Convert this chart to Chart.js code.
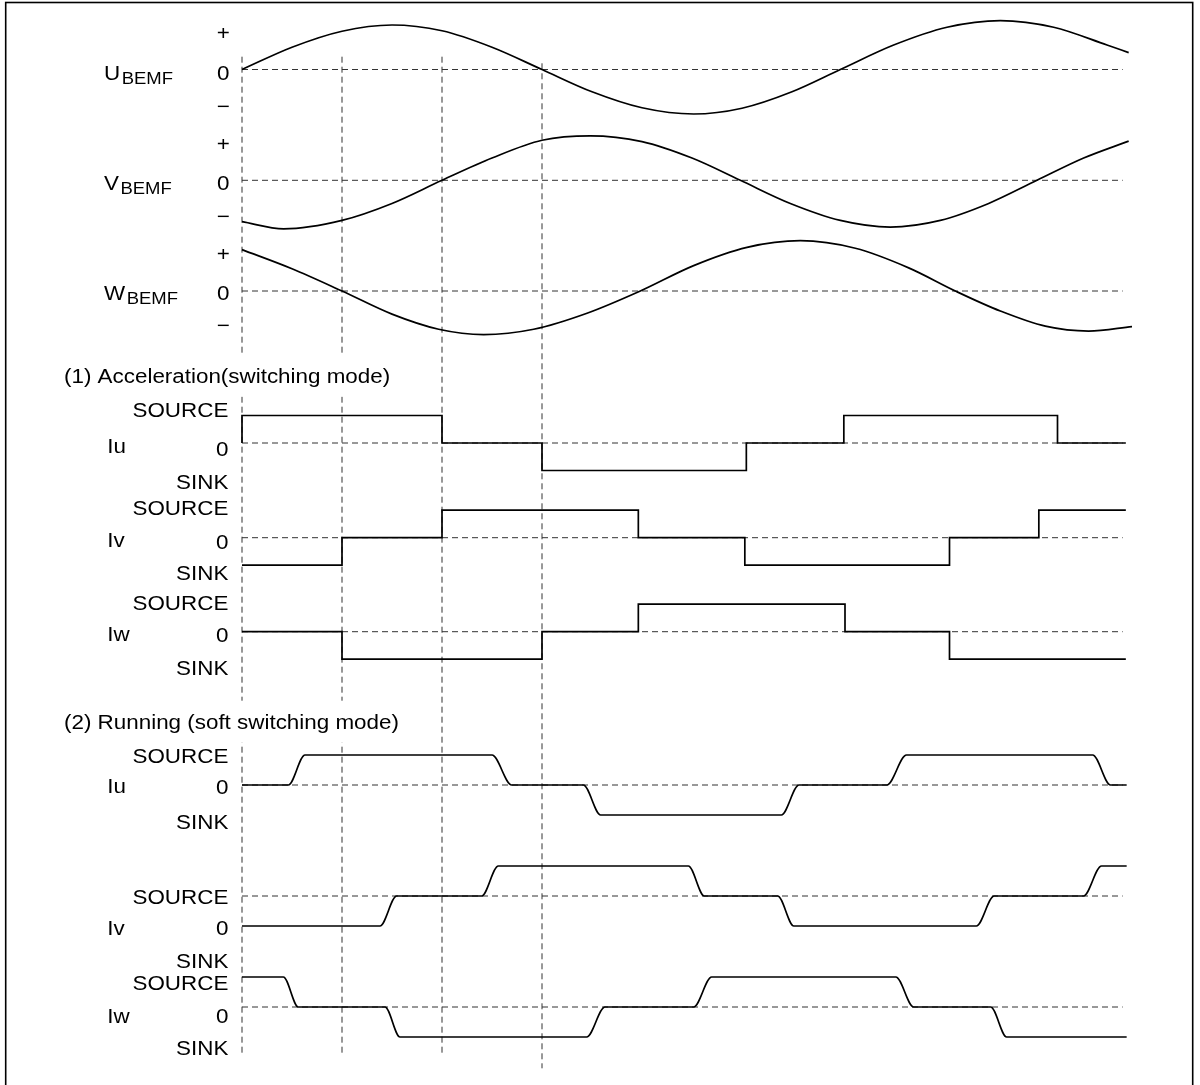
<!DOCTYPE html>
<html>
<head>
<meta charset="utf-8">
<script src="https://cdn.jsdelivr.net/npm/chart.js@4.4.1/dist/chart.umd.min.js"></script>
<style>
  html, body { margin: 0; padding: 0; background: #fff; }
  #wrap { width: 1200px; height: 1085px; position: relative; }
</style>
</head>
<body>
<div id="wrap"><canvas id="timing"></canvas></div>
<script>
// x = electrical angle (deg), y = level in units of the row amplitude

// back EMF
const uBemf = [[0,0],[30,0.5],[60,0.86],[90,1.0],[120,0.87],[150,0.5],[180,0],[210,-0.5],[240,-0.86],[271,-1.0],
  [300,-0.87],[330,-0.5],[359,0],[391,0.55],[423,0.95],[455,1.1],[487,0.95],[519,0.55],[532,0.38]];
const vBemf = [[0,-0.93],[25,-1.09],[60,-0.9],[90,-0.52],[120,0],[150,0.5],[180,0.9],[209,1.0],[240,0.87],[270,0.5],
  [299,0],[329,-0.52],[359,-0.9],[389,-1.05],[419,-0.9],[448,-0.52],[477,0],[505,0.5],[532,0.88]];
const wBemf = [[0,0.93],[30,0.5],[60,0],[90,-0.52],[118,-0.86],[145,-0.98],[175,-0.86],[207,-0.5],[239,0],[271,0.57],
  [303,0.98],[335,1.13],[368,0.96],[400,0.52],[428,0],[455,-0.45],[482,-0.79],[508,-0.9],[534,-0.8]];

// (1) switching mode: level holds from this angle to the next point
const iuHard = [[0,0],[0,1],[120,0],[180,-1],[302.6,0],[361.1,1],[489.3,0],[530.3,0]];
const ivHard = [[0,-1],[60,0],[120,1],[237.8,0],[301.7,-1],[424.5,0],[478.1,1],[530.3,1]];
const iwHard = [[0,0],[60,-1],[180,0],[237.8,1],[361.8,0],[424.5,-1],[530.3,-1]];

// (2) soft switching mode: corners of the smoothed edges
const iuSoft = [[0,0],[27.8,0],[37.8,1],[150,1],[161.8,0],[204.8,0],[215.2,-1],[323.6,-1],[334.2,0],[386.9,0],
  [398.7,1],[510.4,1],[521.1,0],[530.8,0]];
const ivSoft = [[0,-1],[82.8,-1],[92.8,0],[143.8,0],[153.8,1],[267.8,1],[277.4,0],[321.4,0],[331.1,-1],[440.6,-1],
  [451.3,0],[504.9,0],[515.7,1],[530.8,1]];
const iwSoft = [[0,1],[24.8,1],[33.8,0],[85.8,0],[94.8,-1],[206.8,-1],[217.8,0],[271,0],[281.8,1],[392.3,1],
  [403,0],[449.2,0],[458.8,-1],[530.8,-1]];

const guideAngles = [0, 60, 120, 180];
const zeroLineEnd = 528.4;

const bemfNames = ['U', 'V', 'W'];
const bemfSub = 'BEMF';
const bemfTicks = ['+', '0', '\u2212'];
const phaseNames = ['Iu', 'Iv', 'Iw'];
const levelTicks = ['SOURCE', '0', 'SINK'];
const sectionTitles = ['(1) Acceleration(switching mode)', '(2) Running (soft switching mode)'];

// layout (y in px, the y scale is 1:1 with the canvas)
const bemfRows = [
  { zero: 69.5, amp: 44.5, ticks: [33.3, 72.7, 106], name: 72.5 },
  { zero: 180.3, amp: 44.5, ticks: [144, 183.3, 216], name: 183 },
  { zero: 291, amp: 44.5, ticks: [254, 293.3, 325], name: 293 }
];
const hardRows = [
  { zero: 443, amp: 27.5, ticks: [410.3, 449.3, 481.7], name: 446 },
  { zero: 537.7, amp: 27.5, ticks: [508.3, 541.7, 573.3], name: 540 },
  { zero: 631.7, amp: 27.5, ticks: [603.3, 635, 668.3], name: 634 }
];
const softRows = [
  { zero: 785, amp: 30, ticks: [756, 787, 822], name: 786 },
  { zero: 896, amp: 30, ticks: [896.7, 928, 961], name: 928 },
  { zero: 1007, amp: 30, ticks: [983, 1015.5, 1048.3], name: 1015.5 }
];
const titleRows = [375.5, 721.7];
const guideSpans = [[56.7, 1054], [56.7, 1054], [56.7, 1054], [63.3, 1068.3]];

const STRETCH = 1.12;
const FONT = '"Liberation Sans", Arial, sans-serif';

function wave(points, row, extra) {
  return Object.assign({
    data: points.map(p => ({ x: p[0], y: row.zero - row.amp * p[1] })),
    borderColor: '#000',
    borderWidth: 1.7,
    pointRadius: 0,
    fill: false,
    order: 1
  }, extra);
}

function dashed(points) {
  return {
    data: points,
    borderColor: '#333',
    borderWidth: 1,
    borderDash: [6, 4],
    pointRadius: 0,
    fill: false,
    order: 2
  };
}

const datasets = [];
[uBemf, vBemf, wBemf].forEach((d, i) => datasets.push(wave(d, bemfRows[i], { cubicInterpolationMode: 'monotone' })));
[iuHard, ivHard, iwHard].forEach((d, i) => datasets.push(wave(d, hardRows[i], { stepped: true })));
[iuSoft, ivSoft, iwSoft].forEach((d, i) => datasets.push(wave(d, softRows[i], { cubicInterpolationMode: 'monotone' })));

bemfRows.concat(hardRows, softRows).forEach(r => {
  datasets.push(dashed([{ x: 0, y: r.zero }, { x: zeroLineEnd, y: r.zero }]));
});
guideAngles.forEach((a, i) => {
  datasets.push(dashed([{ x: a, y: guideSpans[i][0] }, { x: a, y: guideSpans[i][1] }]));
});

const labelPlugin = {
  id: 'labels',
  afterDraw(chart) {
    const ctx = chart.ctx, xs = chart.scales.x, ys = chart.scales.y;
    const put = (txt, xDeg, yc, align, size, dy) => {
      ctx.save();
      ctx.font = size + 'px ' + FONT;
      ctx.fillStyle = '#000';
      ctx.textAlign = align;
      ctx.textBaseline = 'alphabetic';
      ctx.translate(xs.getPixelForValue(xDeg), ys.getPixelForValue(yc) + size * 0.358 + (dy || 0));
      ctx.scale(STRETCH, 1);
      ctx.fillText(txt, 0, 0);
      ctx.restore();
    };
    const width = (txt, size) => {
      ctx.save();
      ctx.font = size + 'px ' + FONT;
      const w = ctx.measureText(txt).width * STRETCH;
      ctx.restore();
      return w;
    };

    // frame
    ctx.save();
    ctx.strokeStyle = '#000';
    ctx.lineWidth = 1.6;
    ctx.strokeRect(5.7, 2.5, 1187, 1200);
    ctx.restore();

    // section titles on a white box
    sectionTitles.forEach((t, i) => {
      const x0 = xs.getPixelForValue(-106.8);
      const yc = ys.getPixelForValue(titleRows[i]);
      ctx.save();
      ctx.fillStyle = '#fff';
      ctx.fillRect(x0 - 3, yc - 21, width(t, 20) + 8, 42);
      ctx.restore();
      put(t, -106.8, titleRows[i], 'left', 20);
    });

    bemfRows.forEach((r, i) => {
      bemfTicks.forEach((t, k) => put(t, -11.2, r.ticks[k], 'center', 20));
      put(bemfNames[i], -82.8, r.name, 'left', 20);
      const subX = -82.8 + (width(bemfNames[i], 20) + 1.5) * 0.6;
      put(bemfSub, subX, r.name, 'left', 16.5, 5.3);
    });

    hardRows.concat(softRows).forEach((r, i) => {
      levelTicks.forEach((t, k) => put(t, -8.2, r.ticks[k], 'right', 20));
      put(phaseNames[i % 3], -80.8, r.name, 'left', 20);
    });
  }
};

new Chart(document.getElementById('timing'), {
  type: 'line',
  data: { datasets: datasets },
  options: {
    responsive: true,
    maintainAspectRatio: false,
    animation: false,
    devicePixelRatio: 1,
    events: [],
    layout: { padding: 0 },
    plugins: { legend: { display: false }, tooltip: { enabled: false } },
    scales: {
      x: { type: 'linear', min: -145.2, max: 574.8, display: false },
      y: { type: 'linear', min: 0, max: 1085, reverse: true, display: false }
    }
  },
  plugins: [labelPlugin]
});
</script>
</body>
</html>
